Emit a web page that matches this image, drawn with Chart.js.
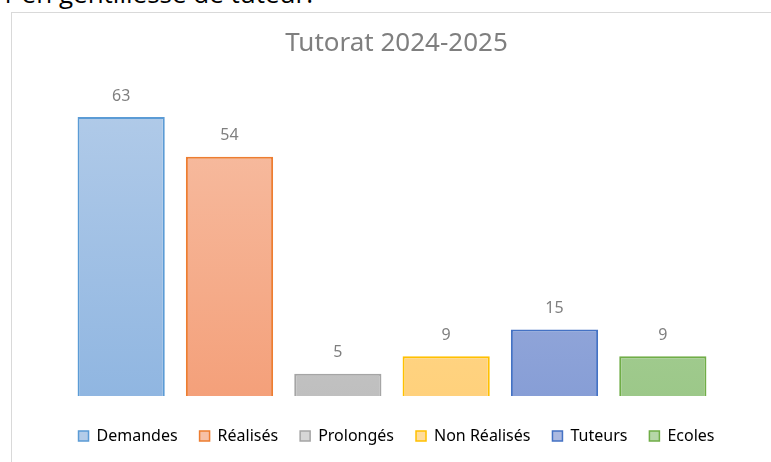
<!DOCTYPE html>
<html>
<head>
<meta charset="utf-8">
<script src="https://cdn.jsdelivr.net/npm/chart.js@4/dist/chart.umd.min.js"></script>
<style>
  html, body { margin: 0; padding: 0; background: #fff; overflow: hidden; }
  #note { position: absolute; left: 0; top: -20px; font: 26px/26px "Open Sans", sans-serif; color: #000; white-space: nowrap; }
  #frame { position: absolute; left: 11px; top: 12px; width: 900px; height: 600px; border: 1px solid #d9d9d9; }
  #wrap { position: absolute; left: 0; top: 0; width: 771px; height: 462px; }
</style>
</head>
<body>
<div id="note">1 en gentillesse de tuteur.</div>
<div id="frame"></div>
<div id="wrap"><canvas id="chart"></canvas></div>
<script>
const categories = ["Demandes", "Réalisés", "Prolongés", "Non Réalisés", "Tuteurs", "Ecoles"];
const values = [63, 54, 5, 9, 15, 9];
const topColors = ["#b3cce9", "#f7c0a6", "#d6d6d6", "#ffdc9c", "#abb9e1", "#b6d7a8"];
const bottomColors = ["#90b6e1", "#f4a07a", "#bfbfbf", "#ffd17c", "#879ed6", "#9cc889"];
const borderColors = ["#5b9bd5", "#ed7d31", "#a5a5a5", "#ffc000", "#4472c4", "#70ad47"];

const FONT = "'Noto Sans', sans-serif";
const GREY = "#7f7f7f";

// value above each bar
const valueLabels = {
  id: "valueLabels",
  afterDatasetsDraw(chart) {
    const ctx = chart.ctx;
    const meta = chart.getDatasetMeta(0);
    ctx.save();
    ctx.font = "16px " + FONT;
    ctx.fillStyle = GREY;
    ctx.textAlign = "center";
    ctx.textBaseline = "middle";
    meta.data.forEach((bar, i) => {
      ctx.fillText(values[i], bar.x, bar.y - 21);
    });
    ctx.restore();
  }
};

// invisible axes, only used to reserve room on each side of the bars
const spacer = (w) => ({
  display: true,
  grid: { display: false },
  border: { display: false },
  ticks: { display: false },
  afterFit: (s) => { s.width = w; }
});

const ctx = document.getElementById("chart").getContext("2d");

const chart = new Chart(ctx, {
  type: "bar",
  data: {
    labels: categories,
    datasets: [{
      data: values,
      backgroundColor: (c) => {
        const area = c.chart.chartArea;
        if (!area) return topColors[c.dataIndex];
        const bar = c.chart.getDatasetMeta(0).data[c.dataIndex];
        const top = bar && bar.y ? bar.y : area.top;
        const g = c.chart.ctx.createLinearGradient(0, top, 0, area.bottom);
        g.addColorStop(0, topColors[c.dataIndex]);
        g.addColorStop(1, bottomColors[c.dataIndex]);
        return g;
      },
      borderColor: borderColors,
      borderWidth: 2,
      categoryPercentage: 1,
      barPercentage: 0.805
    }]
  },
  options: {
    responsive: true,
    maintainAspectRatio: false,
    animation: false,
    layout: {
      padding: { top: 12, left: 38, right: 16, bottom: 8 }
    },
    plugins: {
      title: {
        display: true,
        text: "Tutorat 2024-2025",
        color: GREY,
        font: { family: FONT, size: 26, weight: "normal" },
        padding: { top: 15.5, bottom: 27.3 }
      },
      legend: {
        display: true,
        position: "bottom",
        labels: {
          color: GREY,
          font: { family: FONT, size: 16 },
          boxWidth: 10,
          boxHeight: 10,
          padding: 22,
          generateLabels: () => categories.map((name, i) => ({
            text: name,
            fillStyle: topColors[i],
            strokeStyle: borderColors[i],
            lineWidth: 1.5,
            hidden: false,
            index: i
          }))
        }
      },
      tooltip: { enabled: false }
    },
    scales: {
      x: {
        display: true,
        grid: { display: false },
        border: { display: false },
        ticks: { display: false },
        afterFit: (s) => { s.height = 10; }
      },
      y: Object.assign(spacer(29), { min: 0, max: 70, position: "left" }),
      y2: Object.assign(spacer(38), { position: "right" })
    }
  },
  plugins: [valueLabels]
});
</script>
</body>
</html>
